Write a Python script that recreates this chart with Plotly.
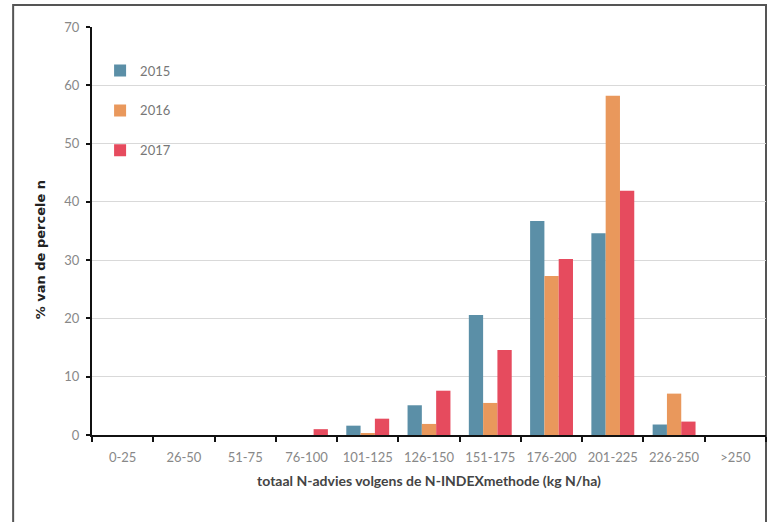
import plotly.graph_objects as go

categories = ["0-25", "26-50", "51-75", "76-100", "101-125", "126-150",
              "151-175", "176-200", "201-225", "226-250", ">250"]
v2015 = [0, 0, 0, 0, 1.6, 5.1, 20.6, 36.7, 34.6, 1.8, 0]
v2016 = [0, 0, 0, 0, 0.3, 1.9, 5.5, 27.3, 58.2, 7.1, 0]
v2017 = [0, 0, 0, 1.0, 2.8, 7.6, 14.6, 30.2, 41.9, 2.3, 0]
series = [("2015", v2015, "#5b8fa7"), ("2016", v2016, "#e9985c"), ("2017", v2017, "#e64b5e")]

fig = go.Figure()
for name, vals, col in series:
    fig.add_trace(go.Bar(x=categories, y=vals, name=name, marker_color=col,
                         marker_line_width=0, legendgroup=name))

fig.update_layout(
    width=771, height=522,
    margin=dict(l=92, r=5, t=27, b=87),
    paper_bgcolor="white", plot_bgcolor="white",
    barmode="group", bargap=0.3, bargroupgap=0,
    font=dict(family="Lato, Open Sans, sans-serif", size=11, color="#777777"),
    showlegend=True,
    legend=dict(x=0.012, y=0.93, xanchor="left", yanchor="top",
                bgcolor="rgba(0,0,0,0)", tracegroupgap=20,
                font=dict(size=13, color="#777777")),
    xaxis=dict(showline=True, linecolor="#111111", linewidth=2,
               ticks="outside", tickson="boundaries", ticklen=5, tickwidth=2,
               tickcolor="#111111", showgrid=False, tickangle=0,
               ticklabelstandoff=9,
               tickfont=dict(size=13, color="#888888"),
               title=dict(text="<b>totaal N-advies volgens de N-INDEXmethode (kg N/ha)</b>",
                          font=dict(size=14, color="#444444"), standoff=13)),
    yaxis=dict(range=[0, 70], dtick=10, showline=True, linecolor="#111111", linewidth=2,
               ticks="outside", ticklen=4, tickwidth=2, tickcolor="#111111",
               ticklabelstandoff=4,
               showgrid=True, gridcolor="#d9d9d9", gridwidth=1, zeroline=False,
               tickfont=dict(size=13, color="#888888")),
    annotations=[dict(text="<b>% van de percele n</b>", textangle=-90,
                      xref="paper", yref="paper", x=-0.077, y=0.453,
                      xanchor="center", yanchor="middle", showarrow=False,
                      font=dict(family="DejaVu Sans, sans-serif", size=13, color="#222222"))],
    shapes=[dict(type="rect", xref="paper", yref="paper",
                 x0=-0.117, x1=1.0, y0=-0.3, y1=1.054,
                 line=dict(color="#555555", width=2), fillcolor="rgba(0,0,0,0)",
                 layer="below")],
)

fig.write_html("out.html", config={"displayModeBar": False},
               post_script="document.body.style.margin='0';document.body.style.overflow='hidden';")
